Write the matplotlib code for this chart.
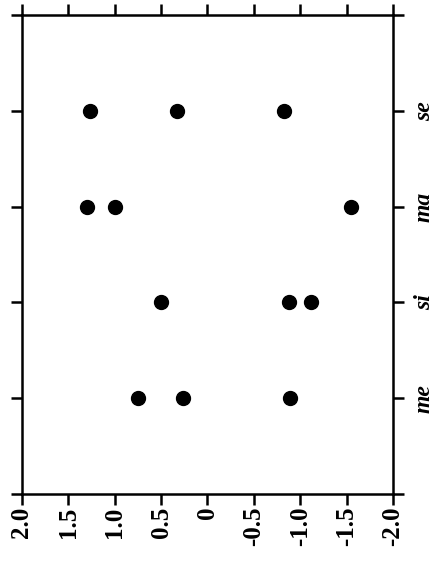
import numpy as np
import matplotlib
matplotlib.use('Agg')
import matplotlib.pyplot as plt

# categories bottom to top
categories = ['me', 'si', 'ma', 'se']
me_vals = [0.75, 0.26, -0.89]
si_vals = [0.50, -0.88, -1.12]
ma_vals = [1.30, 1.00, -1.55]
se_vals = [1.27, 0.33, -0.83]

x_ticks = [2.0, 1.5, 1.0, 0.5, 0.0, -0.5, -1.0, -1.5, -2.0]
x_tick_labels = ['2.0', '1.5', '1.0', '0.5', '0', '-0.5', '-1.0', '-1.5', '-2.0']

lw = 1.8
font = 'Liberation Serif'

fig = plt.figure(figsize=(4.39, 5.65), dpi=100)
ax = fig.add_axes([0.050, 0.1257, 0.845, 0.8478])

for i, vals in enumerate([me_vals, si_vals, ma_vals, se_vals]):
    ax.plot(vals, [i + 1] * len(vals), 'o', color='black', markersize=10,
            linestyle='none', clip_on=False)

ax.set_xlim(2.0, -2.0)
ax.set_ylim(0, 5)

for s in ax.spines.values():
    s.set_linewidth(lw)

ax.set_xticks(x_ticks)
ax.set_xticklabels(x_tick_labels, rotation=90, fontfamily=font,
                   fontweight='bold', fontsize=18)
ax.tick_params(axis='x', which='major', bottom=True, top=True, direction='out',
               length=8, width=lw, pad=1)

ax.set_yticks([0, 1, 2, 3, 4, 5])
ax.set_yticklabels([])
ax.tick_params(axis='y', which='major', left=True, right=True, direction='out',
               length=8, width=lw)

# right side category labels (minor ticks at the same places as majors)
ax.yaxis.remove_overlapping_locs = False
ax.set_yticks([1, 2, 3, 4], minor=True)
ax.set_yticklabels(categories, minor=True, rotation=90, fontfamily=font,
                   fontweight='bold', fontstyle='italic', fontsize=17,
                   va='center')
ax.tick_params(axis='y', which='minor', left=False, right=False, length=8,
               labelleft=False, labelright=True, pad=7)

fig.savefig('out.png', dpi=100)
